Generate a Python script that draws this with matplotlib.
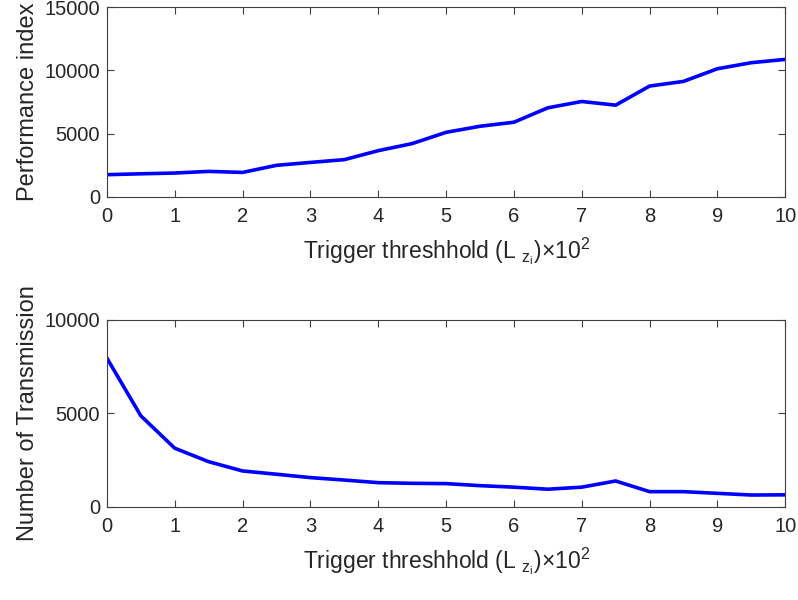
import matplotlib

matplotlib.use("Agg")

import matplotlib.pyplot as plt  # noqa: E402

plt.rcParams["font.family"] = ["Liberation Sans", "DejaVu Sans"]
plt.rcParams["mathtext.fontset"] = "custom"
plt.rcParams["mathtext.rm"] = "Liberation Sans"
plt.rcParams["mathtext.it"] = "Liberation Sans"

threshold = [0, 0.5, 1, 1.5, 2, 2.5, 3, 3.5, 4, 4.5, 5,
             5.5, 6, 6.5, 7, 7.5, 8, 8.5, 9, 9.5, 10]
performance = [1750, 1820, 1880, 2010, 1930, 2490, 2720, 2940, 3650, 4210, 5100,
               5580, 5900, 7040, 7540, 7250, 8760, 9130, 10130, 10610, 10870]
transmissions = [7950, 4870, 3140, 2420, 1925, 1750, 1570, 1440, 1300, 1265, 1250,
                 1140, 1060, 950, 1060, 1390, 820, 820, 730, 640, 650]

xlabel = r"Trigger threshhold (L $_{z_{i}}$)$\times$10$^{2}$"
edge = "#262626"

fig = plt.figure(figsize=(7.98, 6.0), dpi=100)
ax1 = fig.add_axes([0.134, 0.672, 0.850, 0.316])
ax2 = fig.add_axes([0.134, 0.155, 0.850, 0.312])

panels = [
    (ax1, performance, "Performance index", (0, 15000), [0, 5000, 10000, 15000]),
    (ax2, transmissions, "Number of Transmission", (0, 10000), [0, 5000, 10000]),
]

for ax, values, ylabel, ylim, yticks in panels:
    ax.plot(threshold, values, color="#0000ff", linewidth=2.6)
    ax.set_xlim(0, 10)
    ax.set_ylim(*ylim)
    ax.set_xticks(range(0, 11))
    ax.set_yticks(yticks)
    ax.set_xlabel(xlabel, fontsize=16.5, labelpad=7, color=edge)
    ax.set_ylabel(ylabel, fontsize=17, labelpad=4, color=edge)
    ax.tick_params(direction="in", top=True, right=True, labelsize=14.5,
                   colors="#404040", length=5, width=0.8, labelcolor=edge)
    ax.tick_params(axis="x", pad=7)
    ax.tick_params(axis="y", pad=5)
    for spine in ax.spines.values():
        spine.set_color("#404040")
        spine.set_linewidth(0.8)

fig.savefig("out.png", dpi=100)
